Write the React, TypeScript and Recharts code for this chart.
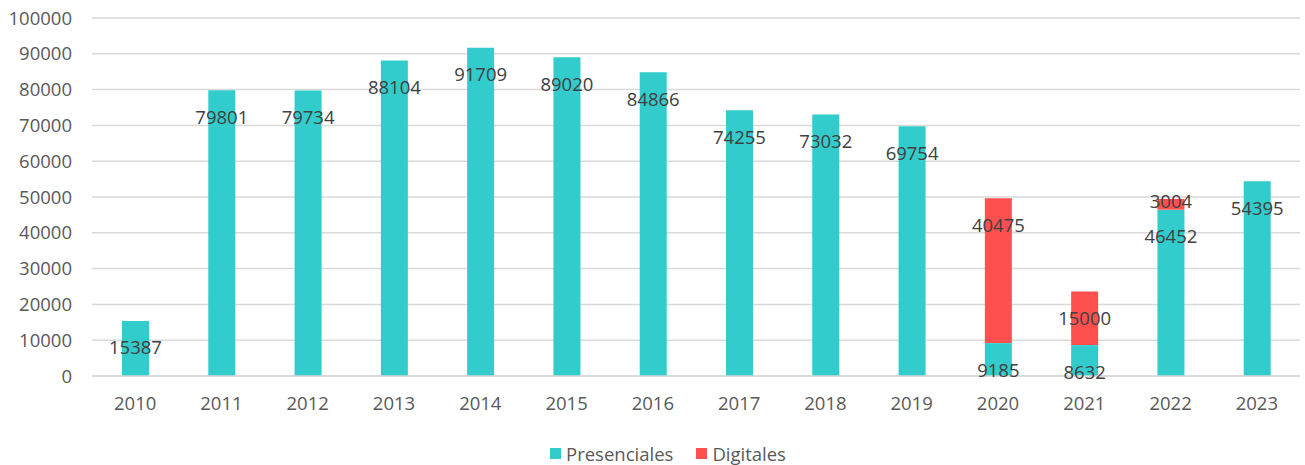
import React from 'react';
import { BarChart, Bar, XAxis, YAxis, CartesianGrid, Legend, LabelList } from 'recharts';

const years = ['2010', '2011', '2012', '2013', '2014', '2015', '2016', '2017', '2018', '2019', '2020', '2021', '2022', '2023'];
const presenciales = [15387, 79801, 79734, 88104, 91709, 89020, 84866, 74255, 73032, 69754, 9185, 8632, 46452, 54395];
const digitales: (number | null)[] = [null, null, null, null, null, null, null, null, null, null, 40475, 15000, 3004, null];
const yTicks = [0, 10000, 20000, 30000, 40000, 50000, 60000, 70000, 80000, 90000, 100000];

const data = years.map((year, i) => ({
  year,
  presenciales: presenciales[i],
  digitales: digitales[i],
}));

const FONT = '"Open Sans", sans-serif';
const TEAL = '#33CCCC';
const RED = '#FF5050';

// label sits just inside the top of each segment, like Excel's "inside end"
const InsideEndLabel = (props: any) => {
  const { x, y, width, height, value } = props;
  if (value == null) return null;
  const cy = height < 20 ? y + height / 2 - 4 : y + 26;
  return (
    <text
      x={x + width / 2}
      y={cy}
      textAnchor="middle"
      dominantBaseline="central"
      fill="#404040"
      fontSize={18.5}
      fontFamily={FONT}
    >
      {value}
    </text>
  );
};

const LegendContent = () => (
  <div
    style={{
      height: 30,
      boxSizing: 'border-box',
      paddingTop: 6,
      paddingLeft: 36,
      display: 'flex',
      justifyContent: 'center',
      alignItems: 'center',
      fontFamily: FONT,
      fontSize: 18.5,
      color: '#595959',
    }}
  >
    <span style={{ display: 'inline-block', width: 11, height: 11, background: TEAL, marginRight: 5 }} />
    <span style={{ marginRight: 23 }}>Presenciales</span>
    <span style={{ display: 'inline-block', width: 11, height: 11, background: RED, marginRight: 5 }} />
    <span>Digitales</span>
  </div>
);

export default function App() {
  return (
    <div style={{ position: 'absolute', left: 0, top: 0, width: 1305, height: 465, background: '#fff' }}>
      <BarChart width={1305} height={465} data={data} margin={{ top: 18, right: 5, left: 0, bottom: 0 }}>
        <CartesianGrid vertical={false} stroke="#d9d9d9" strokeWidth={1.5} />
        <XAxis
          dataKey="year"
          height={59}
          axisLine={{ stroke: '#d9d9d9', strokeWidth: 1.5 }}
          tickLine={false}
          tickMargin={15}
          tick={{ fill: '#595959', fontSize: 18.5, fontFamily: FONT }}
        />
        <YAxis
          width={92}
          domain={[0, 100000]}
          ticks={yTicks}
          axisLine={false}
          tickLine={false}
          tickMargin={14}
          tick={{ fill: '#595959', fontSize: 18.5, fontFamily: FONT }}
        />
        <Legend verticalAlign="bottom" content={<LegendContent />} />
        <Bar dataKey="presenciales" name="Presenciales" stackId="a" fill={TEAL} barSize={27} isAnimationActive={false}>
          <LabelList dataKey="presenciales" content={<InsideEndLabel />} />
        </Bar>
        <Bar dataKey="digitales" name="Digitales" stackId="a" fill={RED} barSize={27} isAnimationActive={false}>
          <LabelList dataKey="digitales" content={<InsideEndLabel />} />
        </Bar>
      </BarChart>
    </div>
  );
}
